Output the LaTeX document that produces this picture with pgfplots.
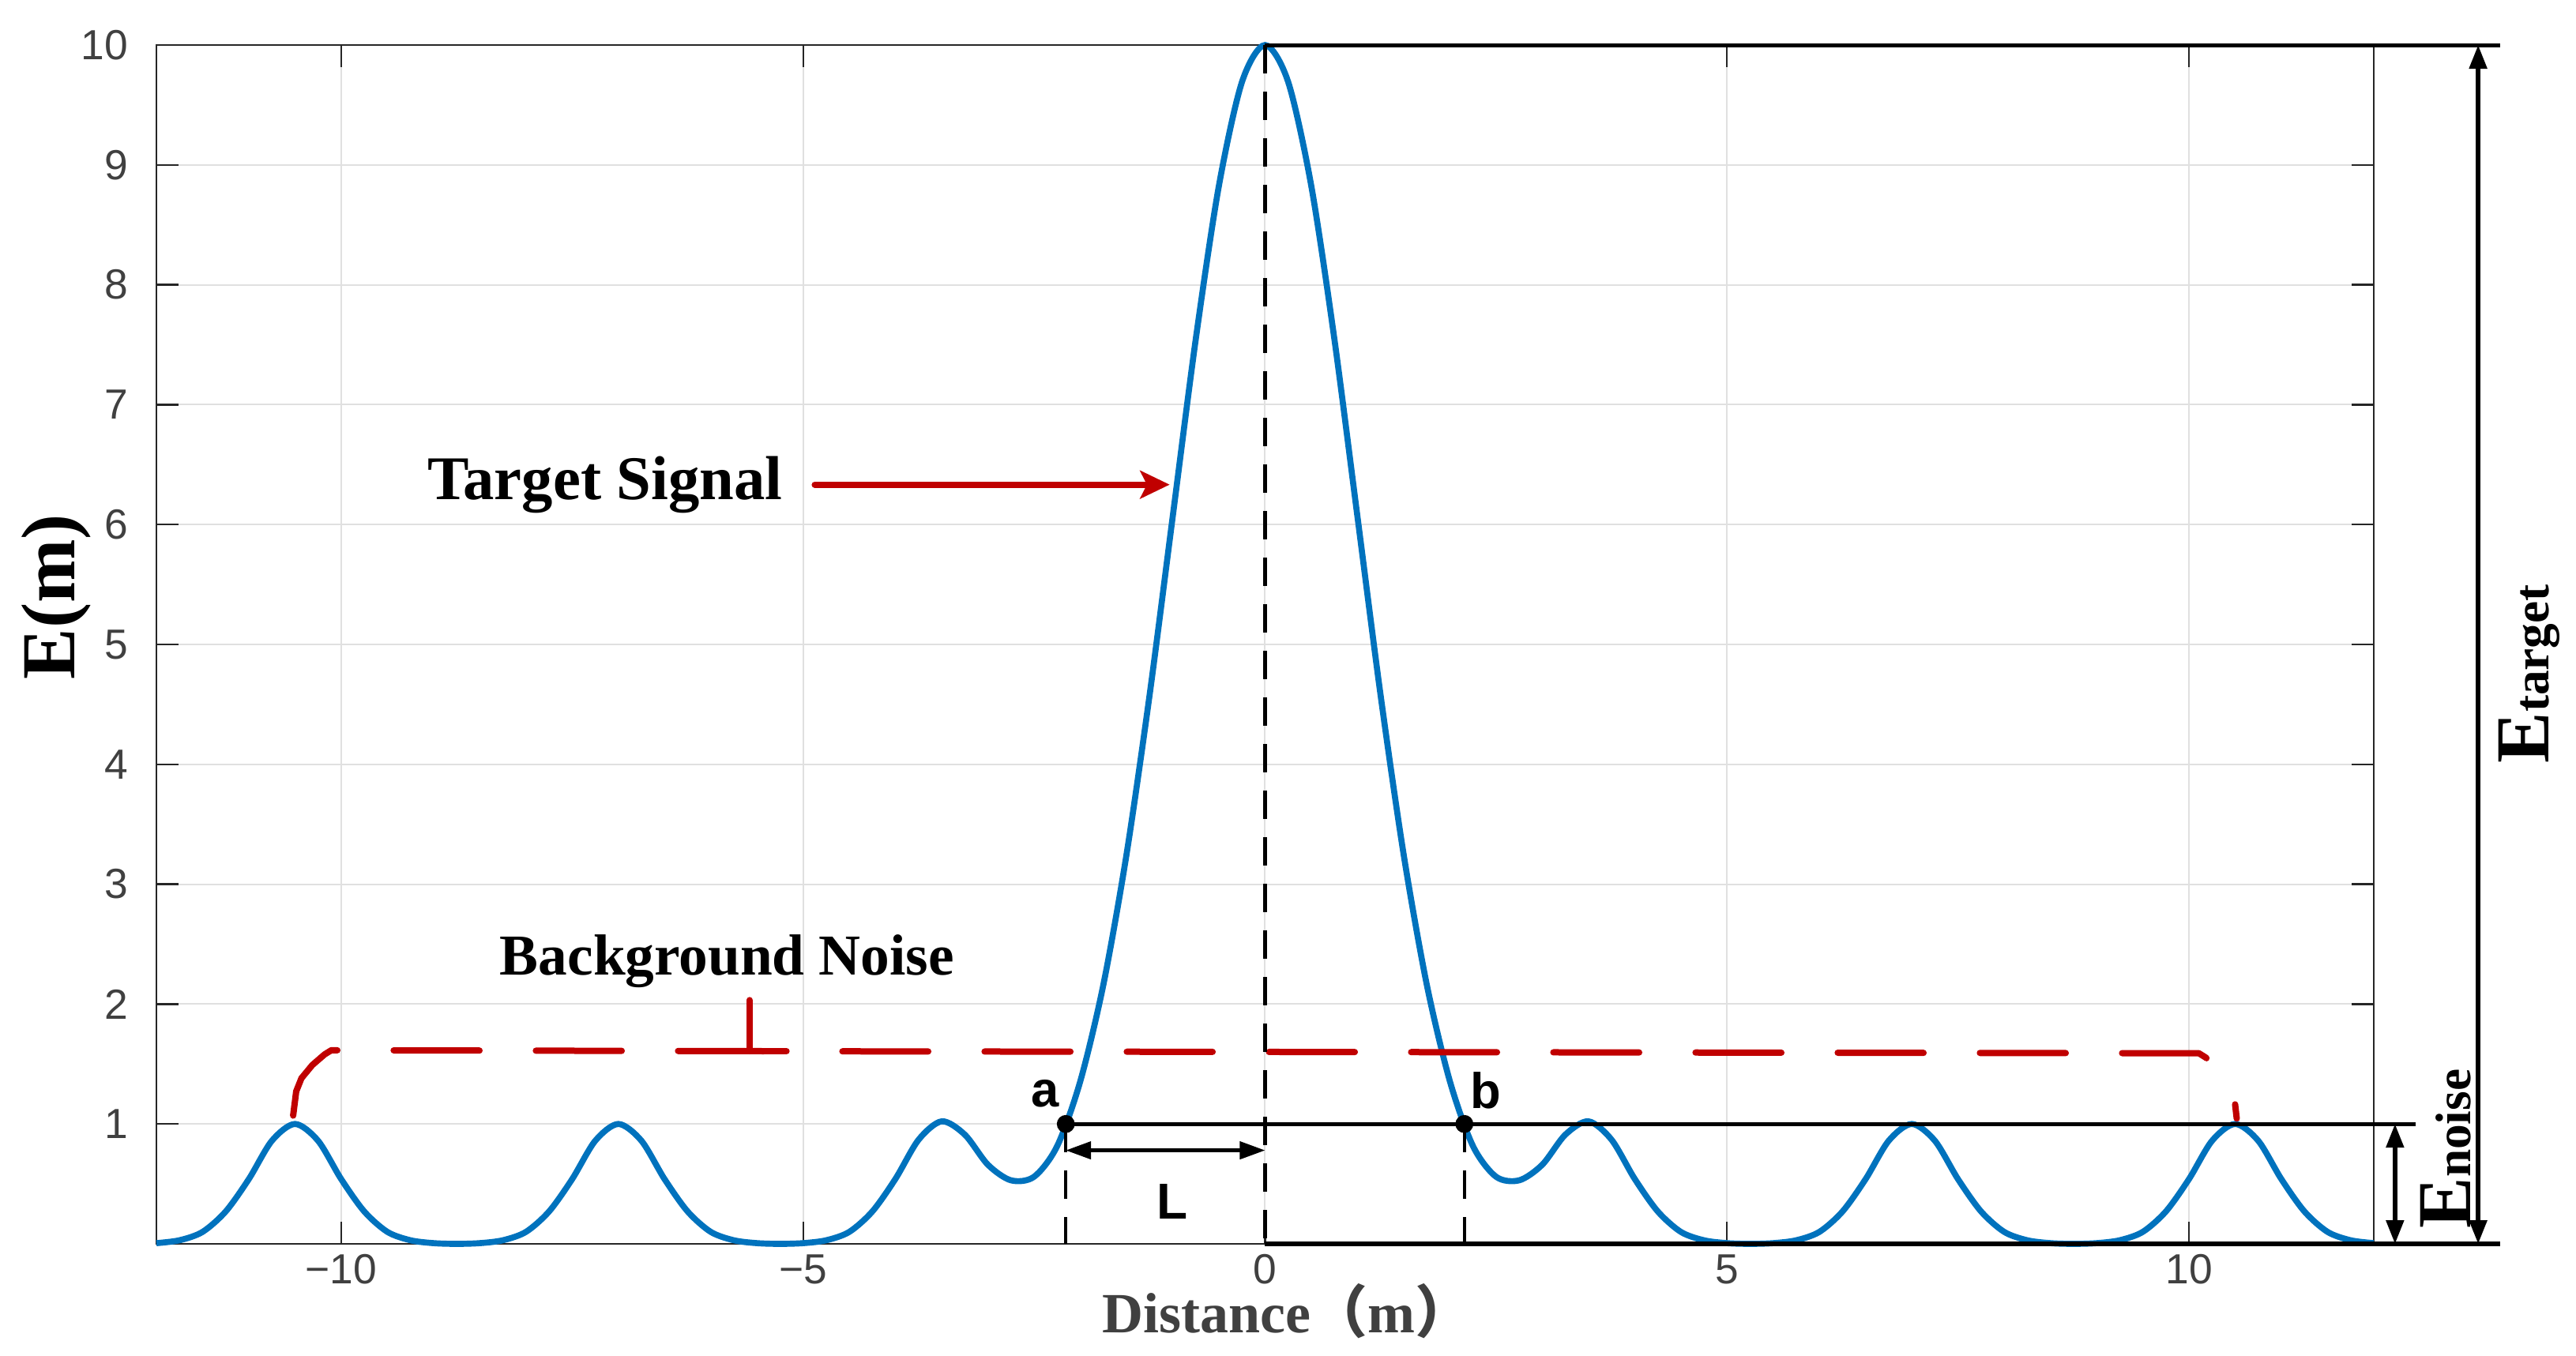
\documentclass[border=0pt]{standalone}
\usepackage{fontspec}
\setmainfont{Liberation Sans}
\newfontfamily\tnr{Liberation Serif}
\newfontfamily\cjk{Noto Sans CJK SC}
\usepackage{pgfplots}
\pgfplotsset{compat=1.18}
\usetikzlibrary{arrows.meta}
\definecolor{matblue}{RGB}{0,114,189}
\definecolor{noisered}{RGB}{192,0,0}
\definecolor{axgray}{RGB}{38,38,38}
\definecolor{lblgray}{RGB}{64,64,64}
\definecolor{gridgray}{RGB}{224,224,224}
\begin{document}
\begin{tikzpicture}
\begin{axis}[
  name=ax, scale only axis, width=421.05pt, height=227.7pt,
  xmin=-12, xmax=12, ymin=0, ymax=10,
  xtick={-10,-5,0,5,10}, xticklabels={−10,−5,0,5,10},
  ytick={1,2,3,4,5,6,7,8,9,10}, yticklabels={1,2,3,4,5,6,7,8,9,10},
  xtick pos=both, ytick pos=both,
  tick align=inside, major tick length=4.2pt,
  grid=major, major grid style={line width=0.3pt, draw=gridgray},
  axis line style={line width=0.35pt, draw=axgray},
  tick style={line width=0.35pt, draw=axgray},
  ticklabel style={font=\fontsize{8}{9}\selectfont, text=lblgray},
  xticklabel style={inner sep=0pt, anchor=north, yshift=-1.8pt},
  yticklabel style={inner sep=0pt, anchor=east, xshift=-5.25pt},
  clip=false,
]
\coordinate (bbsw) at (rel axis cs:-0.07054,-0.09354);
\coordinate (bbne) at (rel axis cs:1.09121,1.03755);

\addplot[matblue, line width=1.15pt, smooth] coordinates {
(-12,0.006) (-11.75,0.03) (-11.5,0.10) (-11.25,0.27) (-11,0.54) (-10.75,0.86) (-10.5,1.0) (-10.25,0.86) (-10,0.54) (-9.75,0.27) (-9.5,0.10) (-9.25,0.03) (-9,0.006) (-8.75,0) (-8.5,0.006) (-8.25,0.03) (-8,0.10) (-7.75,0.27) (-7.5,0.54) (-7.25,0.86) (-7,1.0) (-6.75,0.86) (-6.5,0.54) (-6.25,0.27) (-6,0.10) (-5.75,0.03) (-5.5,0.006) (-5.25,0) (-5,0.006) (-4.75,0.03) (-4.5,0.10) (-4.25,0.271) (-4,0.543) (-3.75,0.869) (-3.5,1.022) (-3.25,0.911) (-3,0.66) (-2.75,0.53) (-2.5,0.56) (-2.25,0.816) (-2,1.357) (-1.75,2.163) (-1.5,3.247) (-1.25,4.578) (-1,6.065) (-0.75,7.548) (-0.5,8.825) (-0.25,9.692) (0,10) (0.25,9.692) (0.5,8.825) (0.75,7.548) (1,6.065) (1.25,4.578) (1.5,3.247) (1.75,2.163) (2,1.357) (2.25,0.816) (2.5,0.56) (2.75,0.53) (3,0.66) (3.25,0.911) (3.5,1.022) (3.75,0.869) (4,0.543) (4.25,0.271) (4.5,0.10) (4.75,0.03) (5,0.006) (5.25,0) (5.5,0.006) (5.75,0.03) (6,0.10) (6.25,0.27) (6.5,0.54) (6.75,0.86) (7,1.0) (7.25,0.86) (7.5,0.54) (7.75,0.27) (8,0.10) (8.25,0.03) (8.5,0.006) (8.75,0) (9,0.006) (9.25,0.03) (9.5,0.10) (9.75,0.27) (10,0.54) (10.25,0.86) (10.5,1.0) (10.75,0.86) (11,0.54) (11.25,0.27) (11.5,0.10) (11.75,0.03) (12,0.006)
};

% background noise level (red dashed)
\addplot[noisered, line width=1.2pt, line cap=round, line join=round, dash pattern=on 16.3pt off 10.7pt] coordinates {
(-10.52,1.07) (-10.487,1.272) (-10.43,1.382) (-10.312,1.492) (-10.18,1.58) (-10.107,1.615) (-5.18,1.607)
};
\addplot[noisered, line width=1.2pt, line cap=round, line join=round, dash pattern=on 16.3pt off 10.7pt] coordinates {
(-4.575,1.606) (10.107,1.59) (10.18,1.555) (10.312,1.467) (10.43,1.357) (10.487,1.247) (10.517,1.045)
};
\draw[noisered, line width=1.2pt, line cap=round] (axis cs:-6.0,1.607) -- (axis cs:-5.18,1.607);
\draw[noisered, line width=1.2pt, line cap=round] (axis cs:-5.581,2.033) -- (axis cs:-5.581,1.607);

% target signal label and arrow
\node[anchor=base west, inner sep=0pt, font=\tnr\bfseries\fontsize{11.8}{14}\selectfont] at (axis cs:-9.076,6.21) {Target Signal};
\draw[noisered, line width=1.2pt, line cap=round, -{Stealth[length=5.6pt,width=5.3pt,inset=1.3pt]}] (axis cs:-4.874,6.333) -- (axis cs:-1.033,6.333);
\node[anchor=base west, inner sep=0pt, font=\tnr\bfseries\fontsize{11}{13}\selectfont] at (axis cs:-8.293,2.241) {Background Noise};

% black construction lines
\draw[black, line width=0.65pt, dash pattern=on 5.4pt off 3.45pt] (axis cs:0,10) -- (axis cs:0,0);
\draw[black, line width=0.65pt, dash pattern=on 5.4pt off 3.45pt] (axis cs:-2.157,1) -- (axis cs:-2.157,0);
\draw[black, line width=0.65pt, dash pattern=on 5.4pt off 3.45pt] (axis cs:2.157,1) -- (axis cs:2.157,0);
\draw[black, line width=0.75pt] (axis cs:-2.157,1) -- (axis cs:12.45,1);
\draw[black, line width=0.75pt] (axis cs:0,10) -- (axis cs:13.37,10);
\draw[black, line width=0.8pt] (axis cs:0,0) -- (axis cs:13.37,0);
\draw[black, line width=0.65pt, {Triangle[length=4.8pt,width=3.3pt]}-{Triangle[length=4.8pt,width=3.3pt]}] (axis cs:-2.157,0.78) -- (axis cs:0,0.78);
\draw[black, line width=0.8pt, {Triangle[length=4.5pt,width=3.3pt]}-{Triangle[length=4.5pt,width=3.3pt]}] (axis cs:13.13,0) -- (axis cs:13.13,10);
\draw[black, line width=0.8pt, {Triangle[length=4.5pt,width=3.3pt]}-{Triangle[length=4.5pt,width=3.3pt]}] (axis cs:12.23,0) -- (axis cs:12.23,1);

\addplot[only marks, mark=*, mark size=1.5pt, black] coordinates {(-2.157,1) (2.157,1)};

\node[anchor=base east, inner sep=0pt, font=\bfseries\fontsize{9.5}{11}\selectfont] at (axis cs:-2.22,1.14) {a};
\node[anchor=base west, inner sep=0pt, font=\bfseries\fontsize{9.5}{11}\selectfont] at (axis cs:2.21,1.13) {b};
\node[anchor=base, inner sep=0pt, font=\bfseries\fontsize{9.6}{11}\selectfont] at (axis cs:-1.0,0.21) {L};

% E labels
\node[rotate=90, anchor=base west, inner sep=0pt, font=\tnr\bfseries] at (axis cs:13.05,0.12) {\fontsize{14.5}{16}\selectfont E\fontsize{9.5}{11}\selectfont noise};
\node[rotate=90, anchor=base west, inner sep=0pt, font=\tnr\bfseries] at (axis cs:13.89,4.0) {\fontsize{14.5}{16}\selectfont E\fontsize{9.5}{11}\selectfont target};
\node[rotate=90, anchor=base west, inner sep=0pt, font=\tnr\bfseries\fontsize{14.5}{16}\selectfont] at (axis cs:-12.887,4.70) {E(m)};
\node[anchor=base west, inner sep=0pt, text=lblgray, font=\tnr\bfseries\fontsize{10.8}{13}\selectfont] at (axis cs:-1.77,-0.744) {Distance\smash{\cjk （}m\smash{\cjk ）}};
\end{axis}
\pgfresetboundingbox
\path[use as bounding box] (bbsw) rectangle (bbne);
\end{tikzpicture}
\end{document}
